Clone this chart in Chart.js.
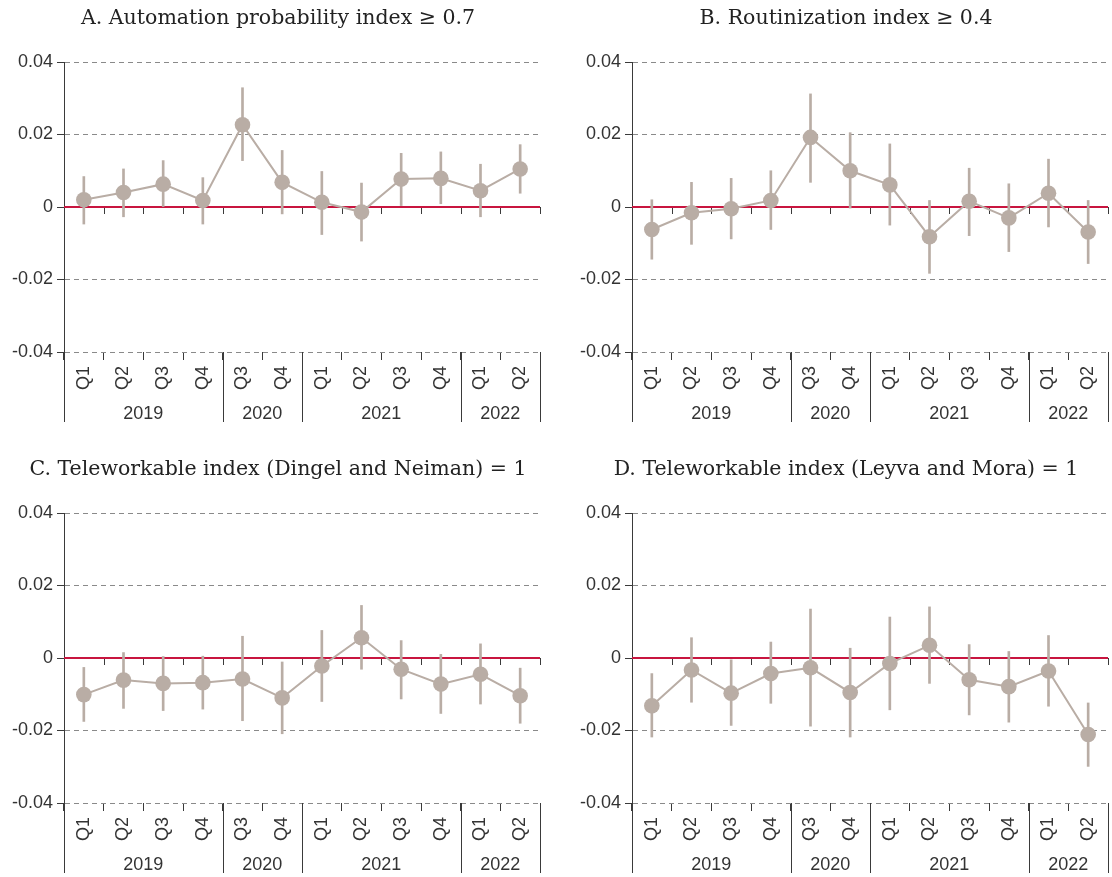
<!DOCTYPE html>
<html>
<head>
<meta charset="utf-8">
<script src="https://cdn.jsdelivr.net/npm/chart.js@4.4.0/dist/chart.umd.min.js"></script>
<style>
  html, body { margin: 0; padding: 0; background: #fff; overflow: hidden; width: 1112px; height: 877px; }
  .panel { position: absolute; }
</style>
</head>
<body>
<div class="panel" style="left:0px;top:0px"><canvas id="pA" width="556" height="430"></canvas></div>
<div class="panel" style="left:568px;top:0px"><canvas id="pB" width="556" height="430"></canvas></div>
<div class="panel" style="left:0px;top:451px"><canvas id="pC" width="556" height="430"></canvas></div>
<div class="panel" style="left:568px;top:451px"><canvas id="pD" width="556" height="430"></canvas></div>
<script>
// Quarter categories and their year groups
const quarters = ['Q1', 'Q2', 'Q3', 'Q4', 'Q3', 'Q4', 'Q1', 'Q2', 'Q3', 'Q4', 'Q1', 'Q2'];
const years = ['2019', '2020', '2021', '2022'];
const yearSpans = [4, 2, 4, 2];

// Value axis ticks
const yTickValues = [-0.04, -0.02, 0, 0.02, 0.04];
const yTickLabels = ['-0.04', '-0.02', '0', '0.02', '0.04'];

// A. Automation probability index >= 0.7
const automationEst  = [0.0020, 0.0040, 0.0063, 0.0018, 0.0227, 0.0068, 0.0013, -0.0014, 0.0077, 0.0079, 0.0045, 0.0105];
const automationLow  = [-0.0047, -0.0027, 0.0000, -0.0047, 0.0128, -0.0019, -0.0076, -0.0094, 0.0004, 0.0009, -0.0027, 0.0038];
const automationHigh = [0.0084, 0.0105, 0.0128, 0.0081, 0.0329, 0.0156, 0.0098, 0.0066, 0.0148, 0.0152, 0.0118, 0.0172];

// B. Routinization index >= 0.4
const routineEst  = [-0.0062, -0.0016, -0.0005, 0.0018, 0.0192, 0.0100, 0.0061, -0.0082, 0.0016, -0.0030, 0.0038, -0.0069];
const routineLow  = [-0.0144, -0.0103, -0.0088, -0.0062, 0.0068, -0.0003, -0.0050, -0.0183, -0.0079, -0.0123, -0.0055, -0.0156];
const routineHigh = [0.0020, 0.0068, 0.0079, 0.0100, 0.0312, 0.0205, 0.0174, 0.0018, 0.0107, 0.0064, 0.0132, 0.0018];

// C. Teleworkable index (Dingel and Neiman) = 1
const dingelEst  = [-0.0101, -0.0061, -0.0070, -0.0068, -0.0058, -0.0110, -0.0022, 0.0056, -0.0031, -0.0072, -0.0045, -0.0104];
const dingelLow  = [-0.0175, -0.0139, -0.0145, -0.0141, -0.0173, -0.0209, -0.0120, -0.0031, -0.0113, -0.0153, -0.0127, -0.0180];
const dingelHigh = [-0.0026, 0.0015, 0.0004, 0.0005, 0.0060, -0.0011, 0.0076, 0.0145, 0.0048, 0.0010, 0.0039, -0.0028];

// D. Teleworkable index (Leyva and Mora) = 1
const leyvaEst  = [-0.0132, -0.0033, -0.0097, -0.0043, -0.0027, -0.0095, -0.0015, 0.0035, -0.0060, -0.0079, -0.0036, -0.0211];
const leyvaLow  = [-0.0218, -0.0122, -0.0186, -0.0125, -0.0188, -0.0218, -0.0143, -0.0070, -0.0157, -0.0177, -0.0133, -0.0299];
const leyvaHigh = [-0.0043, 0.0056, -0.0005, 0.0044, 0.0135, 0.0027, 0.0113, 0.0141, 0.0037, 0.0018, 0.0062, -0.0124];

const MARK = '#B9ADA5';
const ZERO = '#C8153F';
const AXIS = '#3a3a3a';
const TEXT = '#333333';
const SANS = '"Liberation Sans", Arial, sans-serif';

Chart.defaults.font.family = SANS;
Chart.defaults.font.size = 18;
Chart.defaults.color = TEXT;

// Zero reference line, its tick marks, and the grouped year axis below the quarters
const axisDecor = {
  id: 'axisDecor',
  beforeDatasetsDraw(chart) {
    const { ctx, chartArea: { left, right }, scales: { x, y } } = chart;
    const step = x.getPixelForValue(1) - x.getPixelForValue(0);
    const y0 = Math.round(y.getPixelForValue(0));
    ctx.save();
    ctx.strokeStyle = AXIS;
    ctx.lineWidth = 1;
    ctx.beginPath();
    for (let i = 0; i < quarters.length; i++) {
      const bx = Math.round(x.getPixelForValue(i) + step / 2) + 0.5;
      ctx.moveTo(bx, y0);
      ctx.lineTo(bx, y0 + 7);
    }
    ctx.stroke();
    ctx.strokeStyle = ZERO;
    ctx.lineWidth = 2;
    ctx.beginPath();
    ctx.moveTo(left, y0);
    ctx.lineTo(right, y0);
    ctx.stroke();
    ctx.restore();
  },
  afterDraw(chart) {
    const { ctx, chartArea: { left, bottom }, scales: { x } } = chart;
    const step = x.getPixelForValue(1) - x.getPixelForValue(0);
    const lineEnd = bottom + 70;
    ctx.save();
    ctx.strokeStyle = AXIS;
    ctx.lineWidth = 1;
    ctx.beginPath();
    const lx = Math.round(left) + 0.5;
    ctx.moveTo(lx, bottom);
    ctx.lineTo(lx, lineEnd);
    let idx = 0;
    const centers = [];
    yearSpans.forEach((span) => {
      const start = x.getPixelForValue(idx) - step / 2;
      idx += span;
      const end = x.getPixelForValue(idx - 1) + step / 2;
      centers.push((start + end) / 2);
      const ex = Math.round(end) + 0.5;
      ctx.moveTo(ex, bottom);
      ctx.lineTo(ex, lineEnd);
    });
    ctx.stroke();
    ctx.fillStyle = TEXT;
    ctx.font = '18px ' + SANS;
    ctx.textAlign = 'center';
    ctx.textBaseline = 'middle';
    years.forEach((yr, i) => ctx.fillText(yr, centers[i], bottom + 62));
    ctx.restore();
  }
};

function makePanel(id, title, est, low, high) {
  const ranges = low.map((l, i) => [l, high[i]]);
  return new Chart(document.getElementById(id), {
    type: 'bar',
    data: {
      labels: quarters,
      datasets: [
        {
          type: 'line',
          data: est,
          borderColor: MARK,
          borderWidth: 2,
          backgroundColor: MARK,
          pointRadius: 7.8,
          pointBorderWidth: 0,
          pointBackgroundColor: MARK,
          tension: 0,
          order: 0
        },
        {
          type: 'bar',
          data: ranges,
          backgroundColor: MARK,
          borderWidth: 0,
          barThickness: 2,
          order: 1
        }
      ]
    },
    options: {
      responsive: false,
      animation: false,
      layout: { padding: 0 },
      plugins: {
        legend: { display: false },
        tooltip: { enabled: false },
        title: {
          display: true,
          text: title,
          color: '#222',
          font: { family: '"DejaVu Serif", serif', size: 20.5, weight: 'normal', lineHeight: 1.2 },
          padding: { top: 6, bottom: 31.4 }
        }
      },
      scales: {
        x: {
          offset: true,
          border: { display: false },
          grid: {
            display: true,
            offset: true,
            drawOnChartArea: false,
            drawTicks: true,
            tickLength: 8,
            color: AXIS,
            tickColor: AXIS
          },
          ticks: {
            autoSkip: false,
            minRotation: 90,
            maxRotation: 90,
            padding: 6,
            color: TEXT,
            font: { size: 18 }
          },
          afterFit(scale) { scale.height = 78; }
        },
        y: {
          min: -0.04,
          max: 0.04,
          afterBuildTicks(scale) { scale.ticks = yTickValues.map((v) => ({ value: v })); },
          border: { display: true, color: AXIS, width: 1, dash: [5, 4] },
          grid: {
            color: (ctx) => (ctx.tick && ctx.tick.value === 0 ? 'rgba(0,0,0,0)' : '#8a8a8a'),
            lineWidth: 1,
            drawTicks: true,
            tickLength: 7,
            tickColor: AXIS,
            tickBorderDash: []
          },
          ticks: {
            padding: 4,
            color: TEXT,
            font: { size: 18 },
            callback: (value, index) => yTickLabels[index]
          },
          afterFit(scale) { scale.width = 64; }
        },
        // empty right-hand margin axis; keeps the plot edge clear of the canvas edge
        margin: {
          type: 'linear',
          position: 'right',
          display: true,
          border: { display: false },
          grid: { display: false, drawTicks: false },
          ticks: { display: false },
          afterFit(scale) { scale.width = 16; }
        }
      }
    },
    plugins: [axisDecor]
  });
}

makePanel('pA', 'A. Automation probability index \u2265 0.7', automationEst, automationLow, automationHigh);
makePanel('pB', 'B. Routinization index \u2265 0.4', routineEst, routineLow, routineHigh);
makePanel('pC', 'C. Teleworkable index (Dingel and Neiman) = 1', dingelEst, dingelLow, dingelHigh);
makePanel('pD', 'D. Teleworkable index (Leyva and Mora) = 1', leyvaEst, leyvaLow, leyvaHigh);
</script>
</body>
</html>
